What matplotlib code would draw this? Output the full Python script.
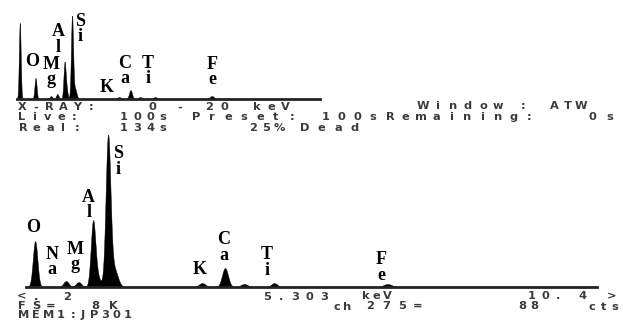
import numpy as np
import matplotlib
matplotlib.use("Agg")
import matplotlib.pyplot as plt

W, H = 623, 324

# ---------------- data ----------------
# upper (overview) spectrum, energy in keV, relative counts
top_peak_kev = [0.00, 0.525, 1.04, 1.25, 1.49, 1.55, 1.74, 1.84, 3.31, 3.69, 4.01, 4.51, 6.40]
top_peak_counts = [76, 21, 3, 5, 34, 10, 82, 10, 2, 9, 2, 2, 3]
top_peak_sigma = [0.03, 0.035, 0.04, 0.04, 0.035, 0.04, 0.035, 0.05, 0.06, 0.05, 0.06, 0.06, 0.07]

# lower (expanded) spectrum
bot_peak_kev = [0.525, 1.04, 1.25, 1.49, 1.56, 1.74, 1.84, 3.31, 3.69, 4.01, 4.51, 6.40]
bot_peak_counts = [46, 6, 5, 63, 10, 148, 18, 4, 19, 3, 4, 3]
bot_peak_sigma = [0.038, 0.045, 0.045, 0.038, 0.05, 0.04, 0.06, 0.055, 0.05, 0.06, 0.05, 0.07]

# element labels: (text, energy position, count position)
top_labels = ["O", "M\ng", "A\nl", "S\ni", "K", "C\na", "T\ni", "F\ne"]
top_label_kev = [0.41, 1.04, 1.27, 2.01, 2.91, 3.51, 4.27, 6.41]
top_label_cts = [37, 27, 59.5, 70, 12, 28, 28, 27]

bot_labels = ["O", "N\na", "M\ng", "A\nl", "S\ni", "K", "C\na", "T\ni", "F\ne"]
bot_label_kev = [0.49, 0.81, 1.19, 1.42, 1.91, 3.26, 3.67, 4.39, 6.29]
bot_label_cts = [59, 25, 30, 82, 125.5, 17, 39.5, 24.5, 19.5]

# instrument read-out text: (string, first char centre x px, y px, pitch px)
readout = [
    ("X-RAY:", 22, 107.5, 13.8), ("0", 152, 107.5, 14), ("-", 180, 107.5, 14),
    ("20", 209, 107.5, 15), ("keV", 257, 107.5, 14),
    ("Window", 423, 106, 15), (":", 523, 106, 14), ("ATW", 554, 106, 13.5),
    ("Live:", 22, 117.5, 13), ("100s", 124, 117.5, 13), ("Preset:", 196, 117.5, 16),
    ("100s", 326, 117.5, 15.7), ("Remaining:", 390, 117.5, 15.5), ("0s", 592, 117.5, 18),
    ("Real:", 23, 128, 13.5), ("134s", 124, 128, 13), ("25%", 253, 128, 13), ("Dead", 305, 128, 16.5),
    ("<", 22, 296.5, 14), (".2", 36, 296.5, 31), ("5.303", 267, 296.5, 14.3), ("keV", 366, 296, 10.5),
    ("10.", 532, 296, 13), ("4", 582, 296, 14), (">", 612, 296.5, 14),
    ("FS=", 22, 306, 14.5), ("8K", 95, 306, 18), ("ch", 337, 306.5, 10),
    ("275=", 370, 306, 16), ("88", 522, 306, 12), ("cts", 592, 306.5, 11.5),
    ("MEM1:", 24, 315.5, 12.3), ("JP301", 83, 315.5, 11.2),
]

# ---------------- drawing ----------------
fig = plt.figure(figsize=(W / 100, H / 100), dpi=100)
fig.patch.set_facecolor("white")


def px_axes(left, right, base, top):
    return fig.add_axes([left / W, 1 - base / H, (right - left) / W, (base - top) / H])


def spectrum(ax, xlim, ymax, kev, cts, sig):
    ax.set_xlim(*xlim)
    ax.set_ylim(0, ymax)
    ax.axis("off")
    e = np.linspace(xlim[0], xlim[1], 6000)
    y = np.zeros_like(e)
    for k, c, s in zip(kev, cts, sig):
        y += c * np.exp(-0.5 * ((e - k) / s) ** 2)
    ax.fill_between(e, 0, y, color="black", lw=0.3, edgecolor="black")
    ax.axhline(0, color="#222222", lw=2.0, clip_on=False)


def labels(ax, txt, xs, ys):
    for t, x, y in zip(txt, xs, ys):
        ax.text(x, y, t, ha="center", va="center", family="Liberation Serif",
                weight="bold", fontsize=13, linespacing=0.92, color="black",
                multialignment="center")


ax_top = px_axes(17, 320, 99, 10)
spectrum(ax_top, ((17 - 19.8) / 30, (320 - 19.8) / 30), 89,
         top_peak_kev, top_peak_counts, top_peak_sigma)
labels(ax_top, top_labels, top_label_kev, top_label_cts)

ax_bot = px_axes(26, 597, 287, 130)
spectrum(ax_bot, ((26 - 3.6) / 60, (597 - 3.6) / 60), 157,
         bot_peak_kev, bot_peak_counts, bot_peak_sigma)
labels(ax_bot, bot_labels, bot_label_kev, bot_label_cts)

for s, x0, y, pitch in readout:
    for k, ch in enumerate(s):
        if ch == " ":
            continue
        fig.text((x0 + k * pitch) / W, 1 - y / H, ch, ha="center", va="center",
                 family="DejaVu Sans", weight="bold", fontsize=8.2, color="#3a3a3a")

fig.savefig("out.png", dpi=100, facecolor="white")
